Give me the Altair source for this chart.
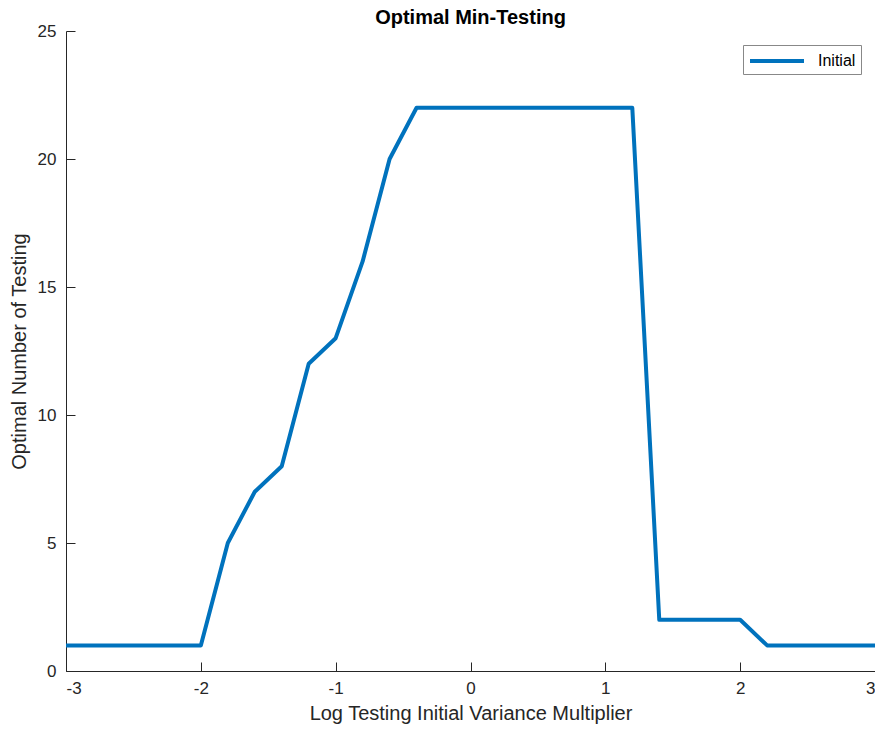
import altair as alt
import pandas as pd

x_vals = [-3.0, -2.8, -2.6, -2.4, -2.2, -2.0, -1.8, -1.6, -1.4, -1.2, -1.0,
          -0.8, -0.6, -0.4, -0.2, 0.0, 0.2, 0.4, 0.6, 0.8, 1.0,
          1.2, 1.4, 1.6, 1.8, 2.0, 2.2, 2.4, 2.6, 2.8, 3.0]
y_vals = [1, 1, 1, 1, 1, 1, 5, 7, 8, 12, 13,
          16, 20, 22, 22, 22, 22, 22, 22, 22, 22,
          22, 2, 2, 2, 2, 1, 1, 1, 1, 1]
series_name = "Initial"

df = pd.DataFrame({"x": x_vals, "y": y_vals, "series": series_name})

FONT = "Liberation Sans"
BLUE = "#0072BD"
AXIS_COLOR = "#262626"
LABEL_EXPR = "datum.value < 0 ? '-' + abs(datum.value) : '' + datum.value"
W, H = 809, 640

xscale = alt.Scale(domain=[-3, 3], nice=False, zero=False)
yscale = alt.Scale(domain=[0, 25], nice=False)

main = alt.Chart(df).mark_line(strokeWidth=4, strokeJoin="round").encode(
    x=alt.X("x:Q", scale=xscale,
            axis=alt.Axis(orient="bottom", values=[-3, -2, -1, 0, 1, 2, 3], ticks=False, grid=False,
                          domainColor=AXIS_COLOR, domainWidth=1, labelExpr=LABEL_EXPR,
                          labelColor=AXIS_COLOR, labelFontSize=17, labelFont=FONT,
                          labelPadding=9, title="Log Testing Initial Variance Multiplier",
                          titleFont=FONT, titleFontSize=20, titleFontWeight="normal",
                          titleColor=AXIS_COLOR, titlePadding=7)),
    y=alt.Y("y:Q", scale=yscale,
            axis=alt.Axis(orient="left", values=[0, 5, 10, 15, 20, 25], ticks=False, grid=False,
                          domainColor=AXIS_COLOR, domainWidth=1,
                          labelColor=AXIS_COLOR, labelFontSize=17, labelFont=FONT,
                          labelPadding=10, title="Optimal Number of Testing",
                          titleFont=FONT, titleFontSize=20, titleFontWeight="normal",
                          titleColor=AXIS_COLOR, titlePadding=8)),
    color=alt.Color("series:N", scale=alt.Scale(range=[BLUE]),
                    legend=alt.Legend(title=None, orient="top-right", offset=14,
                                      symbolType="M-3,0H3", symbolSize=324,
                                      symbolStrokeWidth=4, symbolOffset=18,
                                      labelOffset=30,
                                      labelFont=FONT, labelFontSize=16,
                                      labelColor="#000000",
                                      strokeColor="#888888", fillColor="white",
                                      padding=5)),
)

ticks = alt.Chart(df).mark_line(strokeOpacity=0).encode(
    x=alt.X("x:Q", scale=xscale,
            axis=alt.Axis(orient="top", values=[-3, -2, -1, 0, 1, 2, 3], labels=False, domain=False,
                          grid=False, ticks=True, tickSize=9, tickColor=AXIS_COLOR, tickWidth=1,
                          offset=-H, title=None)),
    y=alt.Y("y:Q", scale=yscale,
            axis=alt.Axis(orient="right", values=[0, 5, 10, 15, 20, 25], labels=False, domain=False,
                          grid=False, ticks=True, tickSize=9, tickColor=AXIS_COLOR, tickWidth=1,
                          offset=-W, title=None)),
)

chart = alt.layer(main, ticks).resolve_axis(x="independent", y="independent").properties(
    width=W,
    height=H,
    autosize=alt.AutoSizeParams(type="none"),
    padding={"left": 58, "top": 23, "right": 0, "bottom": 55},
    title=alt.Title("Optimal Min-Testing", font=FONT, fontSize=20, fontWeight="bold",
                    color="#000000", offset=-6),
).configure_view(stroke=None)

chart.save("out.html", embed_options={"renderer": "svg", "actions": False})
